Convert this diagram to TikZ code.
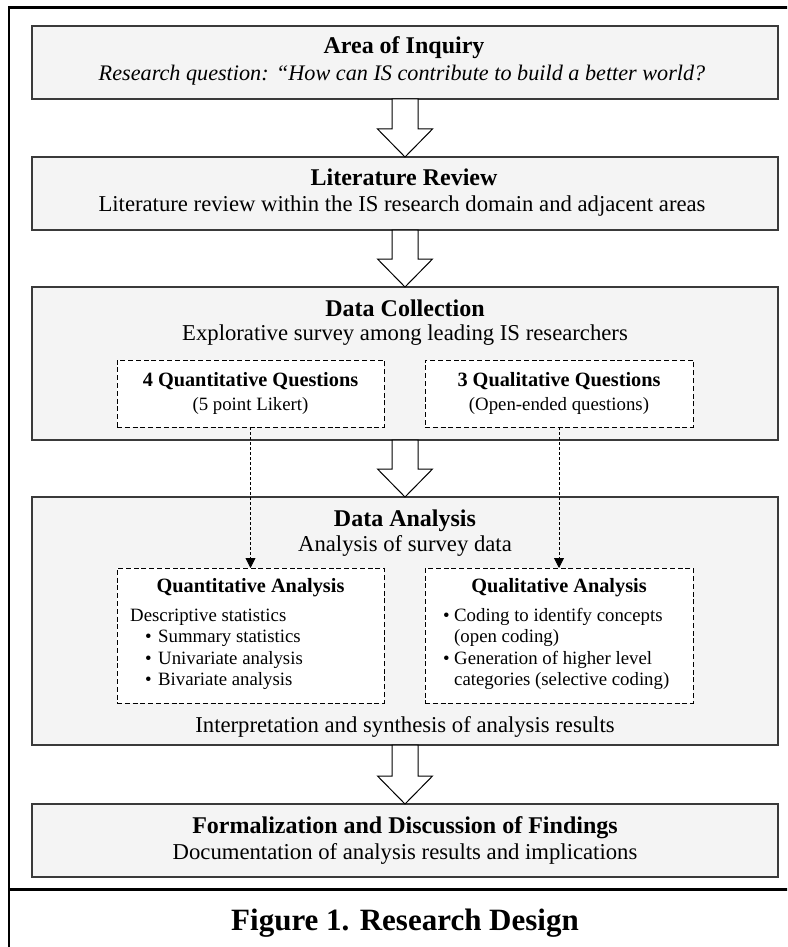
\documentclass[tikz,border=0pt]{standalone}
\usepackage{fontspec}
\setmainfont{Liberation Serif}
\usetikzlibrary{arrows.meta,calc}
\definecolor{boxfill}{HTML}{F4F4F4}
\definecolor{boxline}{HTML}{3A3A3A}
\tikzset{
 bigbox/.style={draw=boxline, line width=1.2pt, fill=boxfill, inner sep=0pt, outer sep=0pt, minimum width=746pt},
 dbox/.style={draw=black, dash pattern=on 5pt off 2.8pt, line width=1pt, fill=white, inner sep=0pt, outer sep=0pt},
 ttl/.style={anchor=base, font=\fontsize{24}{26}\selectfont\bfseries, inner sep=0pt},
 ttli/.style={anchor=base, font=\fontsize{22.2}{26}\selectfont\itshape, inner sep=0pt},
 subt/.style={anchor=base, font=\fontsize{22.7}{26}\selectfont, inner sep=0pt},
 ittl/.style={anchor=base, font=\fontsize{20.3}{24}\selectfont\bfseries, inner sep=0pt},
 itxt/.style={anchor=base west, font=\fontsize{18.8}{22}\selectfont, inner sep=0pt},
 itxtc/.style={anchor=base, font=\fontsize{18.8}{22}\selectfont, inner sep=0pt},
 blk/.style={draw=black, line width=1pt, fill=white, line join=miter},
 dconn/.style={draw=black, line width=0.8pt, dash pattern=on 3pt off 2pt, -{Triangle[length=10pt,width=10pt]}},
 framebar/.style={line width=2.6pt}
}
\newcommand\blockarrow[2]{\draw[blk] let \p1=(#1.south), \p2=(#2.north) in
 (\x1-13pt,\y1) -- (\x1-13pt,\y2+28pt) -- (\x1-27.5pt,\y2+28pt) -- (\x1,\y2) --
 (\x1+27.5pt,\y2+28pt) -- (\x1+13pt,\y2+28pt) -- (\x1+13pt,\y1) -- cycle;}
\begin{document}
\begin{tikzpicture}[x=1pt,y=-1pt]
\useasboundingbox (0,0) rectangle (787,947);
\begin{scope}
\clip (0,0) rectangle (787,947);
\draw[framebar] (9,960) -- (9,7.3) -- (800,7.3);
\draw[framebar] (9,889.5) -- (800,889.5);
\end{scope}

% main boxes
\node[bigbox, minimum height=73pt] (b1) at (405,62.5) {};
\node[bigbox, minimum height=73pt] (b2) at (405,193.5) {};
\node[bigbox, minimum height=153pt] (b3) at (405,363.5) {};
\node[bigbox, minimum height=248pt] (b4) at (405,621) {};
\node[bigbox, minimum height=73pt] (b5) at (405,840.5) {};

% block arrows
\blockarrow{b1}{b2}
\blockarrow{b2}{b3}
\blockarrow{b3}{b4}
\blockarrow{b4}{b5}

% box 1
\node[ttl] (t1a) at (404,54) {Area of Inquiry};
\node[ttli] (t1b) at (402,80.5) {Research question: “How can IS contribute to build a better world?};
% box 2
\node[ttl] (t2a) at (404,185) {Literature Review};
\node[subt] (t2b) at (402,211) {Literature review within the IS research domain and adjacent areas};
% box 3
\node[ttl] (t3a) at (405,316) {Data Collection};
\node[subt] (t3b) at (405,340.5) {Explorative survey among leading IS researchers};
\node[dbox, minimum width=267pt, minimum height=67pt] (qq) at (250.5,393.5) {};
\node[dbox, minimum width=268pt, minimum height=67pt] (ql) at (559,393.5) {};
\node[ittl] (qqa) at (250.5,386) {4 Quantitative Questions};
\node[itxtc] (qqb) at (250.5,410) {(5 point Likert)};
\node[ittl] (qla) at (559,386) {3 Qualitative Questions};
\node[itxtc] (qlb) at (559,410) {(Open-ended questions)};
% box 4
\node[ttl] (t4a) at (405,526) {Data Analysis};
\node[subt] (t4b) at (405,551) {Analysis of survey data};
\node[dbox, minimum width=267pt, minimum height=135pt] (qa) at (250.5,635.5) {};
\node[dbox, minimum width=268pt, minimum height=135pt] (qla2) at (559,635.5) {};
\node[ittl] (qa0) at (250.5,592) {Quantitative Analysis};
\node[itxt] (qa1) at (130,621) {Descriptive statistics};
\node[itxt] (qa2b) at (145,642.5) {•};
\node[itxt] (qa2) at (158,642.5) {Summary statistics};
\node[itxt] (qa3b) at (145,664) {•};
\node[itxt] (qa3) at (158,664) {Univariate analysis};
\node[itxt] (qa4b) at (145,685.5) {•};
\node[itxt] (qa4) at (158,685.5) {Bivariate analysis};
\node[ittl] (ql0) at (559,592) {Qualitative Analysis};
\node[itxt] (ql1b) at (443,621) {•};
\node[itxt] (ql1) at (454,621) {Coding to identify concepts};
\node[itxt] (ql2) at (454,642.5) {(open coding)};
\node[itxt] (ql3b) at (443,664) {•};
\node[itxt] (ql3) at (454,664) {Generation of higher level};
\node[itxt] (ql4) at (454,685.5) {categories (selective coding)};
\node[subt] (t4c) at (405,732) {Interpretation and synthesis of analysis results};
% box 5
\node[ttl] (t5a) at (405,833) {Formalization and Discussion of Findings};
\node[subt] (t5b) at (405,859) {Documentation of analysis results and implications};

% dashed connectors
\draw[dconn] (qq.south) -- (qa.north);
\draw[dconn] (ql.south) -- (qla2.north);

% caption
\node[anchor=base, font=\fontsize{31}{34}\selectfont\bfseries, inner sep=0pt] (cap) at (405,930) {Figure 1. Research Design};
\end{tikzpicture}
\end{document}
